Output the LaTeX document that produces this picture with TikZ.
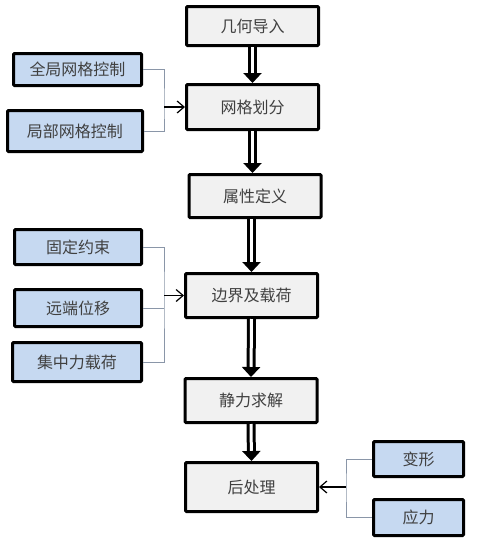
\documentclass[tikz,border=0pt]{standalone}
\usepackage{fontspec}
\setmainfont{Noto Sans CJK SC}
\usetikzlibrary{arrows.meta}
\definecolor{boxgray}{HTML}{F1F1F1}
\definecolor{boxblue}{HTML}{C6D9F1}
\definecolor{txtgray}{HTML}{404040}
\definecolor{brkline}{HTML}{8A96A8}

\begin{document}
\begin{tikzpicture}[x=1pt,y=-1pt,
  every node/.style={font=\fontsize{16}{18}\selectfont, text=txtgray},
  mainbox/.style={draw=black, line width=3pt, fill=boxgray, rounded corners=1pt,
    minimum width=132pt, minimum height=42pt, inner sep=0pt},
  sidebox/.style={draw=black, line width=3pt, fill=boxblue, rounded corners=1pt,
    minimum width=127pt, minimum height=35pt, inner sep=0pt},
  flow/.style={double=white, double distance=3pt, line width=3pt,
    -{Triangle[width=18pt,length=10pt]}},
  brk/.style={draw=brkline, line width=0.8pt},
  into/.style={line width=1.4pt, -{Straight Barb[width=12pt,length=7pt,line width=1.2pt]}}
]
\useasboundingbox (0,0) rectangle (479,544);

% main chain
\node[mainbox, minimum height=39pt] (geom) at (252.5,26) {几何导入};
\node[mainbox, minimum height=45pt] (mesh) at (252.5,107) {网格划分};
\node[mainbox, minimum height=43pt] (attr) at (255,196) {属性定义};
\node[mainbox, minimum height=44pt] (bc) at (251.5,295.5) {边界及载荷};
\node[mainbox, minimum height=44pt] (solve) at (251,400.5) {静力求解};
\node[mainbox, minimum height=49pt] (post) at (251.5,487) {后处理};

% side inputs
\node[sidebox, minimum width=128pt, minimum height=32pt] (gmesh) at (77.5,69.5) {全局网格控制};
\node[sidebox, minimum width=135pt, minimum height=41pt] (lmesh) at (75,131) {局部网格控制};
\node[sidebox] (fix) at (78,247) {固定约束};
\node[sidebox, minimum height=37pt] (remote) at (78,308) {远端位移};
\node[sidebox, minimum width=129pt, minimum height=39pt] (force) at (77,362) {集中力载荷};
\node[sidebox, minimum width=90pt] (deform) at (418.5,459) {变形};
\node[sidebox, minimum width=90pt, minimum height=36pt] (stress) at (418.5,517.5) {应力};

\draw[flow] (geom.south) -- (mesh.north);
\draw[flow] (mesh.south) -- (mesh.south|-attr.north);
\draw[flow] (attr.south-|bc.north) -- (bc.north);
\draw[flow] (bc.south) -- (solve.north);
\draw[flow] (solve.south) -- (post.north);

% brackets
\coordinate (jm) at (164,107);
\coordinate (jb) at (164,295.5);
\coordinate (jp) at (346,487);
\draw[brk] (gmesh.east) -| (jm) |- (lmesh.east);
\draw[into] (jm) -- (mesh.west);
\draw[brk] (fix.east) -| (jb) |- (force.east);
\draw[brk] (remote.east) -- (remote.east-|jb);
\draw[into] (jb) -- (bc.west);
\draw[brk] (deform.west) -| (jp) |- (stress.west);
\draw[into] (jp) -- (post.east);
\end{tikzpicture}
\end{document}
